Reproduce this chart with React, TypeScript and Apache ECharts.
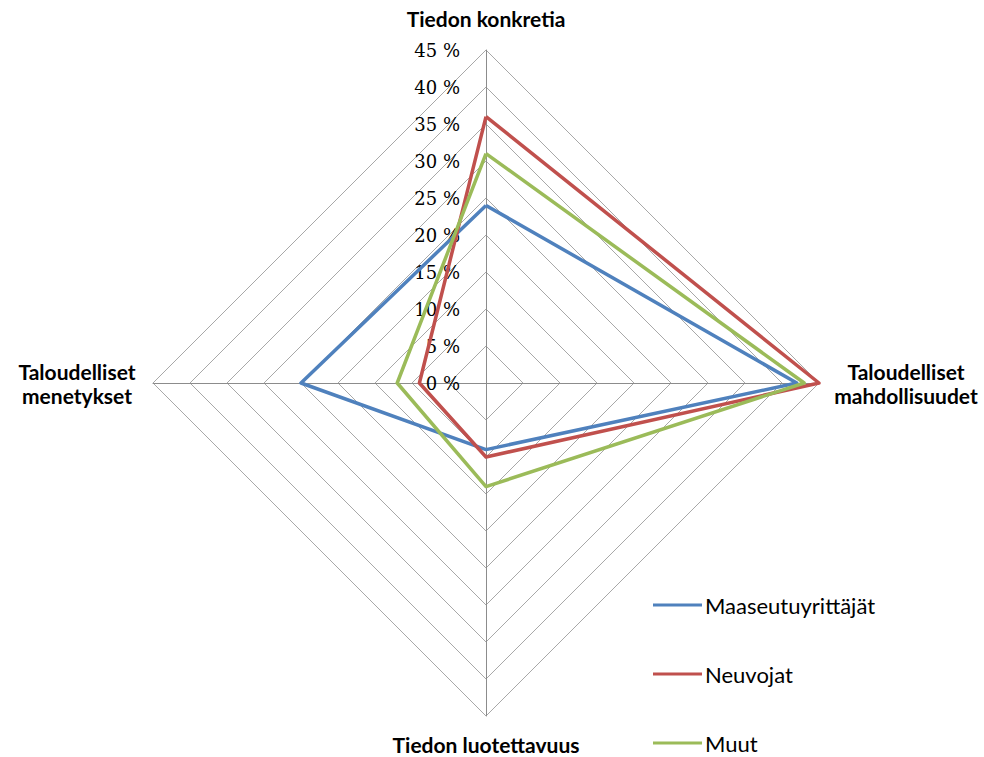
import React, { useEffect, useRef } from "react";
import * as echarts from "echarts";

// Indicator order as ECharts draws them (counter-clockwise from top)
const indicatorNames = [
  "Tiedon konkretia",
  "Taloudelliset\nmenetykset",
  "Tiedon luotettavuus",
  "Taloudelliset\nmahdollisuudet",
];
const seriesNames = ["Maaseutuyrittäjät", "Neuvojat", "Muut"];
const maaseutuyrittajat = [24, 25, 9, 42];
const neuvojat = [36, 9, 10, 45];
const muut = [31, 12, 14, 43];
const colors = ["#4F81BD", "#C0504D", "#9BBB59"];
const axisMax = 45;
const splitCount = 9;

const nameStyle = (name: string) => {
  if (name === "Tiedon konkretia") return "t";
  if (name === "Tiedon luotettavuus") return "b";
  if (name.indexOf("mahdollisuudet") >= 0) return "r";
  return "l";
};

export default function App() {
  const ref = useRef<HTMLDivElement>(null);
  useEffect(() => {
    document.body.style.margin = "0";
    const chart = echarts.init(ref.current!, null, { renderer: "svg" });
    const values = [maaseutuyrittajat, neuvojat, muut];
    const base = {
      fontFamily: "Lato",
      fontWeight: "bold",
      fontSize: 21,
      color: "#000",
      align: "center",
      lineHeight: 24,
    };
    chart.setOption({
      animation: false,
      backgroundColor: "#ffffff",
      legend: {
        orient: "vertical",
        left: 653,
        top: 594,
        padding: 0,
        icon: "rect",
        itemWidth: 49,
        itemHeight: 3,
        itemGap: 47,
        data: seriesNames,
        textStyle: {
          fontFamily: "Lato",
          fontSize: 22,
          color: "#000",
          padding: [0, 0, 0, -2],
        },
      },
      radar: {
        center: [486, 383],
        radius: 333,
        startAngle: 90,
        shape: "polygon",
        splitNumber: splitCount,
        nameGap: 12,
        indicator: indicatorNames.map((n, i) => ({
          name: n,
          min: 0,
          max: axisMax,
          ...(i === 0
            ? {
                axisLabel: {
                  show: true,
                  formatter: (v: number) => v + " %",
                  fontFamily: "DejaVu Serif",
                  fontSize: 18,
                  color: "#000",
                  margin: 26,
                },
              }
            : {}),
        })),
        axisName: {
          formatter: (name: string) => {
            const s = nameStyle(name);
            return name
              .split("\n")
              .map((l) => "{" + s + "|" + l + "}")
              .join("\n");
          },
          rich: {
            t: { ...base, width: 170, padding: [0, 0, 12, 0] },
            b: { ...base, width: 200, padding: [8, 0, 0, 0] },
            l: { ...base, width: 128 },
            r: { ...base, width: 150 },
          },
        },
        axisLabel: { show: false },
        axisLine: { lineStyle: { color: "#8C8C8C", width: 1 } },
        splitLine: { lineStyle: { color: "#A8A8A8", width: 1 } },
        splitArea: { show: false },
      },
      series: [
        {
          type: "radar",
          symbol: "none",
          data: values.map((v, i) => ({
            name: seriesNames[i],
            value: v,
            lineStyle: { color: colors[i], width: 3.5 },
            itemStyle: { color: colors[i] },
          })),
        },
      ],
    });
    return () => chart.dispose();
  }, []);
  return <div ref={ref} style={{ width: 984, height: 757 }} />;
}
